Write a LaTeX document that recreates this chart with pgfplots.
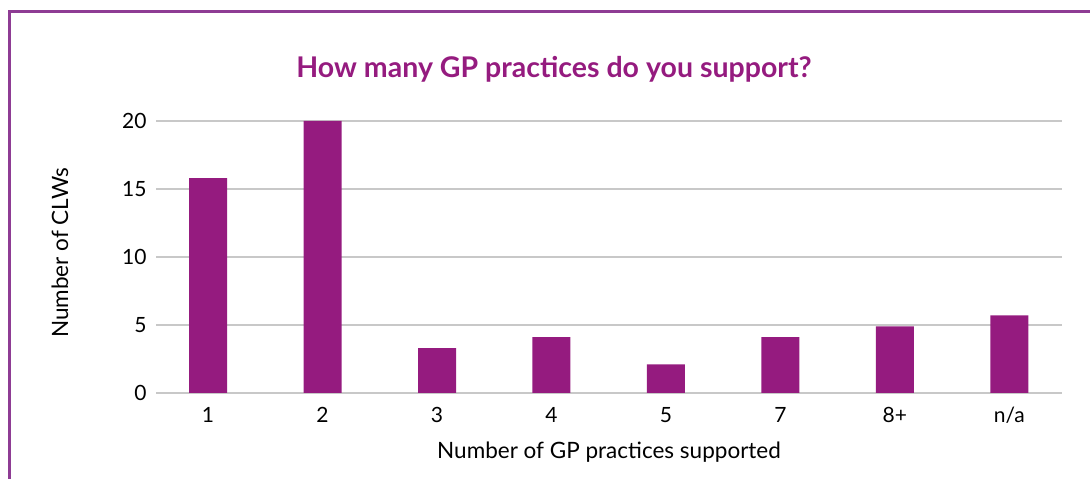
\documentclass[border=0pt]{standalone}
\usepackage{fontspec}
\setmainfont{Lato}
\usepackage{pgfplots}
\pgfplotsset{compat=1.18}
\definecolor{barc}{HTML}{951B7F}
\definecolor{framec}{HTML}{8E3C94}
\definecolor{gridc}{HTML}{C8C8C8}
\begin{document}
\begin{tikzpicture}[x=1pt,y=1pt]
\path[use as bounding box] (0,0) rectangle (1090,479);
\draw[framec, line width=3pt] (9,0) -- (9,467.5) -- (1090,467.5);
\node[font=\bfseries\fontsize{28.5}{32}\selectfont, text=barc] at (554,410) {How many GP practices do you support?};
\begin{axis}[
  at={(156pt,86pt)}, anchor=south west,
  scale only axis, width=906pt, height=272pt,
  ymin=0, ymax=20, xmin=-0.455, xmax=7.46,
  ytick={0,5,10,15,20},
  xtick={0,...,7},
  xticklabels={1,2,3,4,5,7,8+,n/a},
  ymajorgrids, grid style={gridc, line width=2pt},
  axis line style={draw=none},
  major tick length=0pt,
  /pgf/number format/assume math mode=true,
  ticklabel style={font=\fontsize{21}{24}\selectfont},
  xticklabel style={yshift=-11pt},
  yticklabel style={xshift=-6pt},
  label style={font=\fontsize{22.5}{26}\selectfont},
  xlabel={Number of GP practices supported},
  ylabel={Number of CLWs},
  xlabel style={at={(axis description cs:0.5,-0.217)}, anchor=center},
  ylabel style={at={(axis description cs:-0.106,0.515)}, anchor=center},
  ybar, bar width=38pt,
]
\addplot[fill=barc, draw=none] coordinates {(0,15.8) (1,20) (2,3.3) (3,4.1) (4,2.1) (5,4.1) (6,4.9) (7,5.7)};
\end{axis}
\end{tikzpicture}
\end{document}
